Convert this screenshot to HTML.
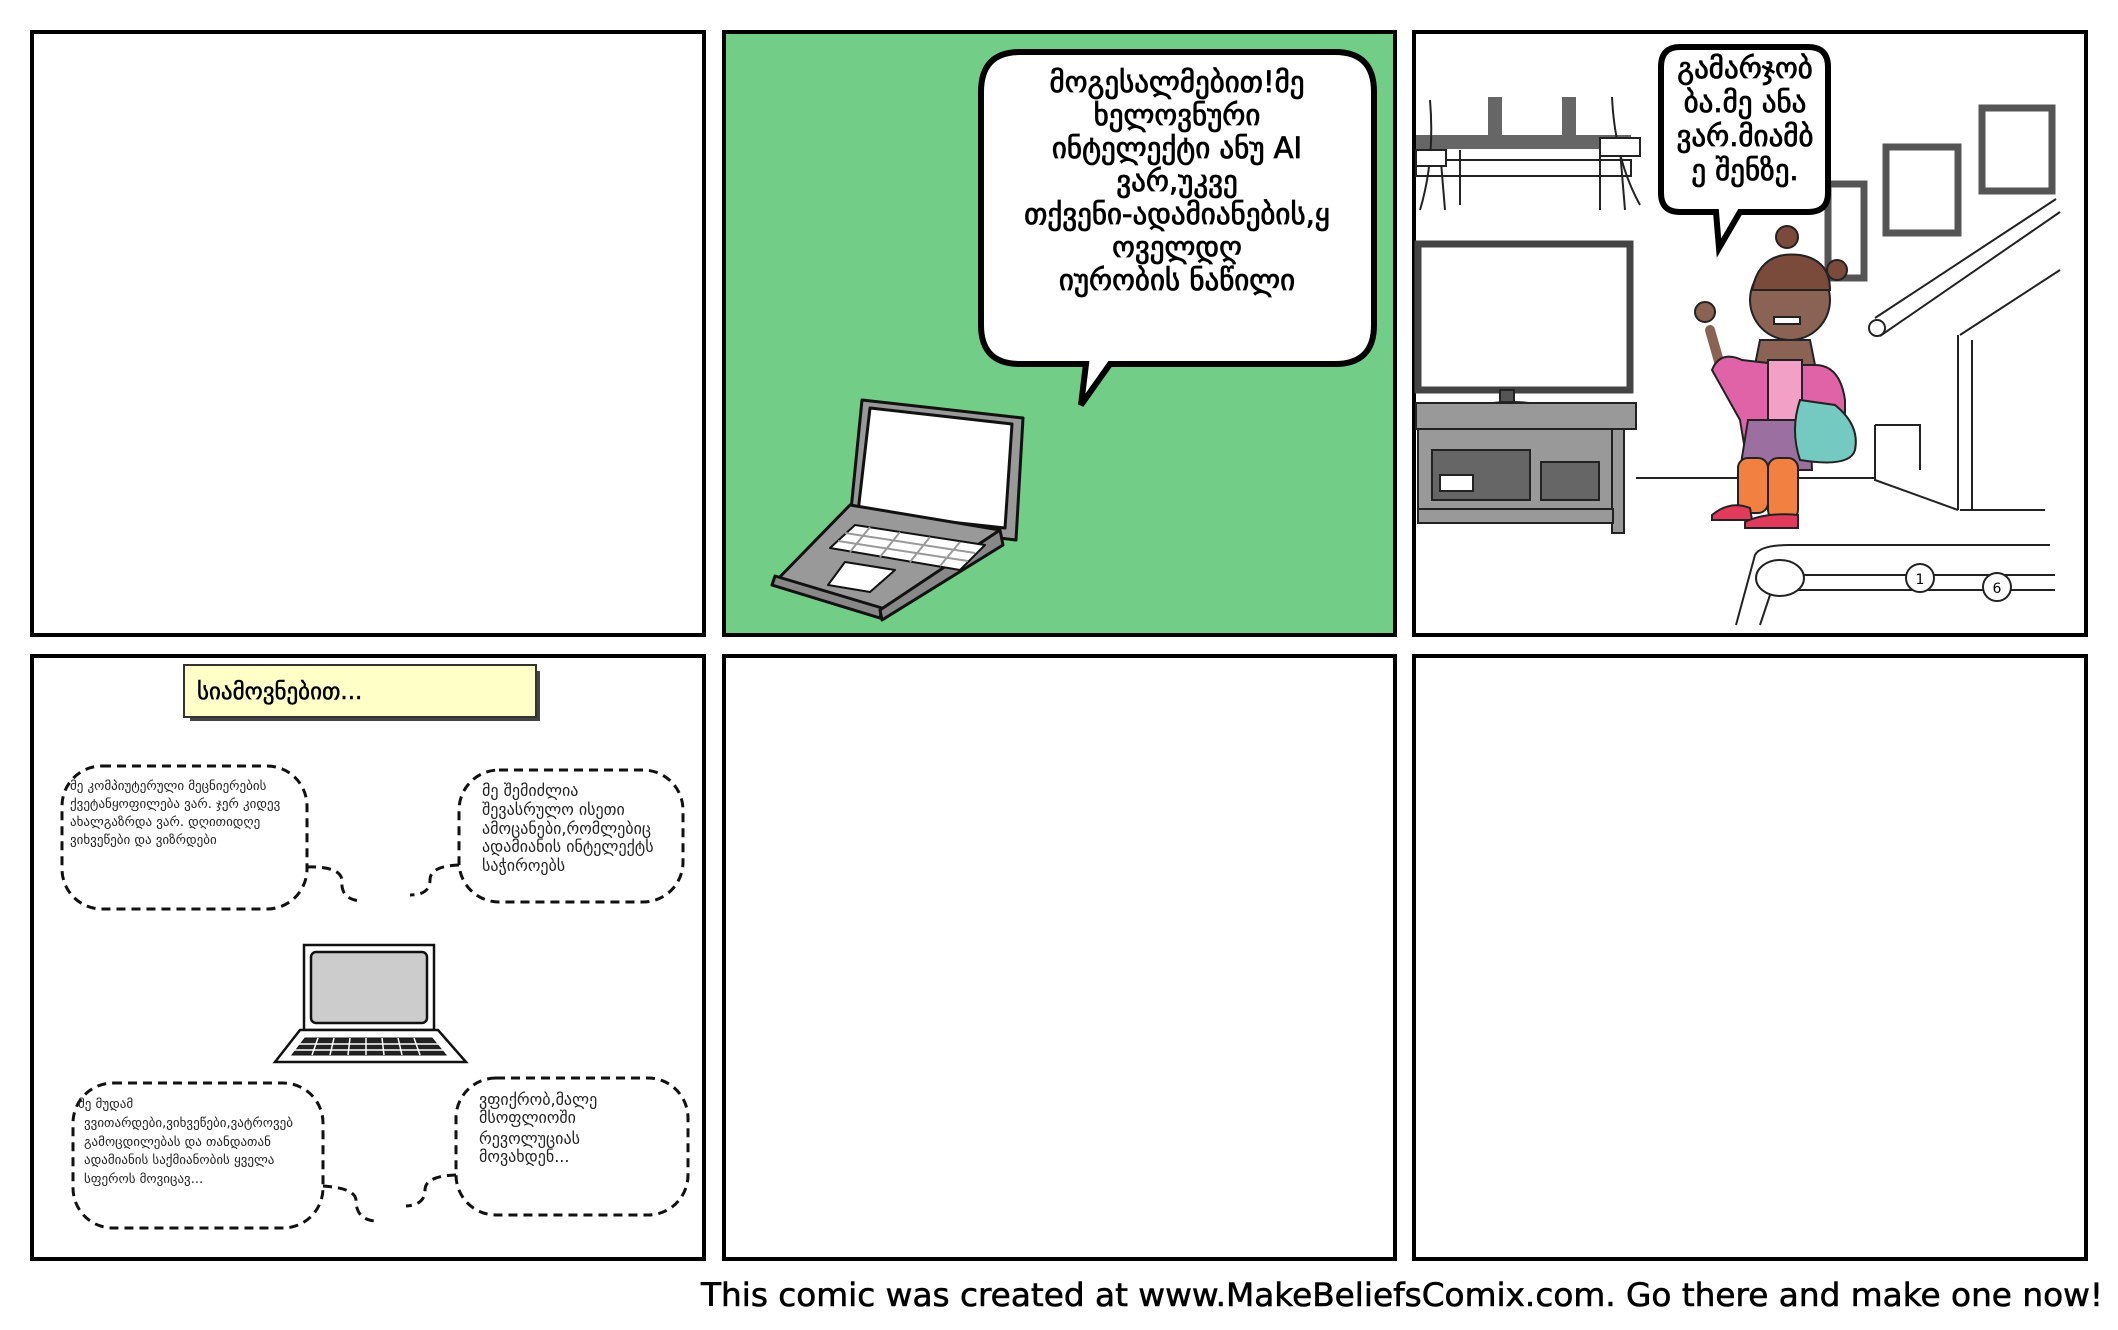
<!DOCTYPE html>
<html><head><meta charset="utf-8"><style>
html,body{margin:0;padding:0;background:#fff;}
svg{display:block;}
text{font-family:"DejaVu Sans","Liberation Sans",sans-serif;}
</style></head><body>
<svg width="2118" height="1330" viewBox="0 0 2118 1330" xmlns="http://www.w3.org/2000/svg">
<rect width="2118" height="1330" fill="#fff"/>
<rect x="32" y="32" width="672" height="603" fill="#fff" stroke="#000" stroke-width="4"/>
<rect x="724" y="32" width="671" height="603" fill="#72CE86" stroke="#000" stroke-width="4"/>
<rect x="1414" y="32" width="672" height="603" fill="#fff" stroke="#000" stroke-width="4"/>
<rect x="32" y="656" width="672" height="603" fill="#fff" stroke="#000" stroke-width="4"/>
<rect x="724" y="656" width="671" height="603" fill="#fff" stroke="#000" stroke-width="4"/>
<rect x="1414" y="656" width="672" height="603" fill="#fff" stroke="#000" stroke-width="4"/>

<path d="M1020 52 H1335 Q1374 52 1374 92 V325 Q1374 364 1335 364 H1110 L1081 405 L1086 364 H1020 Q981 364 981 325 V92 Q981 52 1020 52 Z" fill="#fff" stroke="#000" stroke-width="6"/>
<g font-size="29" text-anchor="middle" fill="#000" stroke="#000" stroke-width="0.8">
<text x="1177" y="92">მოგესალმებით!მე</text>
<text x="1177" y="125">ხელოვნური</text>
<text x="1177" y="158">ინტელექტი ანუ AI</text>
<text x="1177" y="191">ვარ,უკვე</text>
<text x="1177" y="224">თქვენი-ადამიანების,ყ</text>
<text x="1177" y="257">ოველდღ</text>
<text x="1177" y="290">იურობის ნაწილი</text>
</g>
<g stroke="#111" stroke-width="3" stroke-linejoin="round">
<polygon points="862,400 1023,418 1016,540 850,520" fill="#999"/>
<polygon points="870,408 1012,424 1005,528 858,512" fill="#fff"/>
<polygon points="850,505 1000,530 880,618 772,585" fill="#999"/>
<polygon points="772,585 880,618 882,608 775,576" fill="#888"/>
<polygon points="1000,530 1003,545 882,620 880,610" fill="#888"/>
<polygon points="855,525 985,545 960,570 830,548" fill="#fff" stroke-width="2"/>
<polygon points="845,562 895,570 870,592 828,585" fill="#fff" stroke-width="2"/>
</g>
<g stroke="#999" stroke-width="2">
<line x1="845" y1="533" x2="975" y2="553"/><line x1="838" y1="541" x2="968" y2="561"/>
<line x1="870" y1="527" x2="850" y2="552"/><line x1="900" y1="532" x2="880" y2="557"/><line x1="930" y1="537" x2="910" y2="562"/><line x1="960" y1="542" x2="940" y2="566"/>
</g>

<g stroke="#222" stroke-width="2" fill="none">
<rect x="1416" y="160" width="215" height="16" fill="#fff"/>
<rect x="1416" y="135" width="215" height="14" fill="#666" stroke="none"/>
<rect x="1488" y="97" width="14" height="50" fill="#666" stroke="none"/>
<rect x="1562" y="97" width="14" height="50" fill="#666" stroke="none"/>
<path d="M1430 100 Q1435 160 1420 210 M1440 150 L1445 210 M1460 150 V205 M1612 97 Q1615 160 1640 205 M1600 150 V210 M1620 150 L1625 210"/>
<rect x="1416" y="150" width="30" height="16" fill="#fff"/>
<rect x="1600" y="138" width="40" height="18" fill="#fff"/>
<rect x="1828" y="184" width="36" height="94" stroke="#555" stroke-width="7"/>
<rect x="1886" y="147" width="72" height="86" stroke="#555" stroke-width="7" fill="#fff"/>
<rect x="1982" y="108" width="70" height="83" stroke="#555" stroke-width="7" fill="#fff"/>
<rect x="1418" y="244" width="212" height="146" fill="#fff" stroke="#444" stroke-width="7"/>
<rect x="1500" y="390" width="14" height="14" fill="#555"/>
<ellipse cx="1511" cy="410" rx="38" ry="8" fill="#555"/>
<rect x="1416" y="403" width="220" height="26" fill="#999"/>
<rect x="1418" y="429" width="195" height="80" fill="#999"/>
<rect x="1612" y="429" width="12" height="104" fill="#999"/>
<rect x="1418" y="509" width="195" height="14" fill="#999"/>
<rect x="1432" y="450" width="98" height="50" fill="#666"/>
<rect x="1440" y="475" width="33" height="16" fill="#fff"/>
<rect x="1541" y="462" width="58" height="38" fill="#666"/>
<path d="M1636 478 H1875"/>
<path d="M1875 318 L2056 199 M1880 336 L2060 212 M1960 335 L2060 270 M1958 335 V510 M1972 340 V510 M1875 425 H1920 V470 M1875 425 V480 L1958 510 M1960 510 H2045"/>
<circle cx="1877" cy="328" r="8" fill="#fff"/>
<path d="M1736 625 L1755 555 Q1760 545 1790 545 H2050 M1770 590 Q1775 575 1800 575 H2055 M1770 590 H2055 M1760 625 L1770 595"/>
<ellipse cx="1780" cy="578" rx="24" ry="18" fill="#fff"/>
<circle cx="1920" cy="578" r="14" fill="#fff"/>
<circle cx="1997" cy="587" r="14" fill="#fff"/>
</g>
<text x="1920" y="584" font-size="14" text-anchor="middle">1</text>
<text x="1997" y="593" font-size="14" text-anchor="middle">6</text>
<g stroke="#222" stroke-width="2">
<circle cx="1787" cy="237" r="11" fill="#7a4a3a"/>
<circle cx="1837" cy="270" r="10" fill="#7a4a3a"/>
<ellipse cx="1790" cy="300" rx="40" ry="40" fill="#8a6355"/>
<path d="M1752 290 Q1760 250 1800 255 Q1830 260 1830 290 Z" fill="#7a4a3a"/>
<rect x="1774" y="317" width="26" height="7" fill="#fff"/>
<path d="M1722 372 L1710 330" stroke="#8a6355" stroke-width="10" stroke-linecap="round"/>
<circle cx="1705" cy="312" r="10" fill="#8a6355"/>
<path d="M1760 340 L1755 365 H1815 L1810 340 Z" fill="#8a6355"/>
<path d="M1742 360 Q1720 350 1712 370 L1740 420 L1745 450 H1785 V365 Z" fill="#e063a8"/>
<path d="M1790 365 H1815 Q1840 365 1845 400 L1845 440 H1800 Z" fill="#e063a8"/>
<rect x="1768" y="360" width="34" height="60" fill="#f2a0c6"/>
<path d="M1748 420 H1810 L1812 470 H1740 Z" fill="#9b6fa0"/>
<path d="M1800 400 Q1790 430 1800 460 Q1850 468 1855 450 Q1860 425 1835 405 Z" fill="#74c9c0"/>
<rect x="1742" y="470" width="22" height="30" fill="#f0c8dc"/>
<rect x="1775" y="470" width="22" height="30" fill="#f0c8dc"/>
<rect x="1738" y="458" width="30" height="55" rx="10" fill="#f28040"/>
<rect x="1768" y="458" width="30" height="62" rx="10" fill="#f28040"/>
<path d="M1712 515 Q1730 500 1750 508 L1752 520 H1712 Z" fill="#e23a5a"/>
<path d="M1745 522 Q1765 512 1798 515 V528 H1745 Z" fill="#e23a5a"/>
</g>
<path d="M1680 47 H1808 Q1828 47 1828 67 V193 Q1828 212 1808 212 H1740 L1719 248 L1716 212 H1680 Q1661 212 1661 193 V67 Q1661 47 1680 47 Z" fill="#fff" stroke="#000" stroke-width="6"/>
<g font-size="29" text-anchor="middle" stroke="#000" stroke-width="0.8">
<text x="1745" y="78">გამარჯობ</text>
<text x="1745" y="112">ბა.მე ანა</text>
<text x="1745" y="146">ვარ.მიამბ</text>
<text x="1745" y="180">ე შენზე.</text>
</g>

<rect x="190" y="671" width="350" height="50" fill="#444"/>
<rect x="184" y="665" width="352" height="52" fill="#FFFFC8" stroke="#333" stroke-width="2"/>
<text x="197" y="699" font-size="23" stroke="#000" stroke-width="0.5">სიამოვნებით...</text>
<g fill="none" stroke="#111" stroke-width="3" stroke-dasharray="9,6">
<rect x="62" y="766" width="245" height="143" rx="40"/>
<path d="M307 867 Q340 866 342 880 Q340 900 362 901"/>
<rect x="459" y="770" width="224" height="132" rx="40"/>
<path d="M459 865 Q430 866 430 880 Q430 895 410 895"/>
<rect x="73" y="1083" width="250" height="145" rx="40"/>
<path d="M323 1186 Q355 1188 356 1200 Q356 1220 376 1221"/>
<rect x="456" y="1078" width="232" height="137" rx="40"/>
<path d="M456 1175 Q425 1176 425 1190 Q425 1205 406 1206"/>
</g>
<g font-size="13" fill="#222">
<text x="70" y="790">მე კომპიუტერული მეცნიერების</text>
<text x="70" y="808">ქვეტანყოფილება ვარ. ჯერ კიდევ</text>
<text x="70" y="826">ახალგაზრდა ვარ. დღითიდღე</text>
<text x="70" y="844">ვიხვეწები და ვიზრდები</text>
<text x="78" y="1108">მე მუდამ</text>
<text x="84" y="1127">ვვითარდები,ვიხვეწები,ვატროვებ</text>
<text x="84" y="1146">გამოცდილებას და თანდათან</text>
<text x="84" y="1164">ადამიანის საქმიანობის ყველა</text>
<text x="84" y="1183">სფეროს მოვიცავ...</text>
</g>
<g font-size="16" fill="#222">
<text x="482" y="796">მე შემიძლია</text>
<text x="482" y="815">შევასრულო ისეთი</text>
<text x="482" y="834">ამოცანები,რომლებიც</text>
<text x="482" y="852">ადამიანის ინტელექტს</text>
<text x="482" y="871">საჭიროებს</text>
<text x="479" y="1105">ვფიქრობ,მალე</text>
<text x="479" y="1123">მსოფლიოში</text>
<text x="479" y="1144">რევოლუციას</text>
<text x="479" y="1162">მოვახდენ...</text>
</g>
<g stroke="#111" stroke-width="2.5">
<rect x="304" y="945" width="130" height="85" fill="#fff"/>
<rect x="311" y="952" width="116" height="71" rx="5" fill="#ccc"/>
<polygon points="300,1030 438,1030 466,1062 275,1062" fill="#fff"/>
<polygon points="305,1038 432,1038 446,1055 292,1055" fill="#222" stroke-width="1"/>
</g>
<g stroke="#fff" stroke-width="1.5">
<line x1="298" y1="1044" x2="440" y2="1044"/><line x1="294" y1="1050" x2="444" y2="1050"/>
<line x1="318" y1="1038" x2="312" y2="1055"/><line x1="334" y1="1038" x2="330" y2="1055"/><line x1="350" y1="1038" x2="348" y2="1055"/><line x1="366" y1="1038" x2="366" y2="1055"/><line x1="382" y1="1038" x2="384" y2="1055"/><line x1="398" y1="1038" x2="402" y2="1055"/><line x1="414" y1="1038" x2="420" y2="1055"/>
</g>

<text x="701" y="1306" font-size="32" textLength="1402" lengthAdjust="spacingAndGlyphs" font-family="Liberation Sans, sans-serif" stroke="#000" stroke-width="0.6">This comic was created at www.MakeBeliefsComix.com. Go there and make one now!</text>
</svg>
</body></html>
